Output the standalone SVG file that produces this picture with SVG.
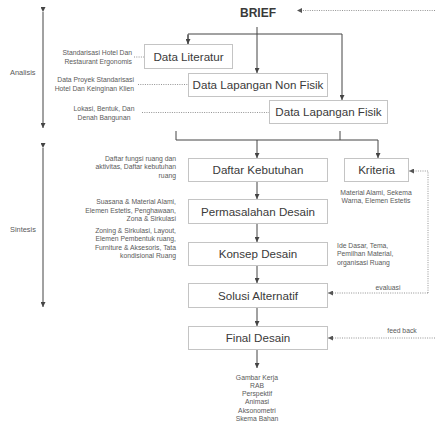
<svg xmlns="http://www.w3.org/2000/svg" width="435" height="429" viewBox="0 0 435 429">
<style>
.box{fill:#fff;stroke:#c4c4c4;stroke-width:1}
.bt{font-family:"Liberation Sans",Arial,sans-serif;font-size:11.6px;fill:#3a3a3a;text-anchor:middle}
.st{font-family:"Liberation Sans",Arial,sans-serif;font-size:6.8px;fill:#5a5a5a}
.ph{font-family:"Liberation Sans",Arial,sans-serif;font-size:7.4px;fill:#5a5a5a}
.r{text-anchor:end}.m{text-anchor:middle}
.ln{fill:none;stroke:#444;stroke-width:1}
.dt{fill:none;stroke:#777;stroke-width:0.8;stroke-dasharray:1 1.3}
</style>
<defs>
<marker id="ah" viewBox="0 0 6 6" refX="6" refY="3" markerWidth="5" markerHeight="5" orient="auto" markerUnits="userSpaceOnUse"><path d="M0,0 L6,3 L0,6 z" fill="#444"/></marker>
<marker id="ahd" viewBox="0 0 6 6" refX="6" refY="3" markerWidth="5" markerHeight="5" orient="auto" markerUnits="userSpaceOnUse"><path d="M0,0 L6,3 L0,6 z" fill="#555"/></marker>
</defs>
<rect width="435" height="429" fill="#fff"/>

<g id="phases">
<line class="ln" x1="43" y1="12" x2="43" y2="128" marker-start="url(#ah)" marker-end="url(#ah)"/>
<text class="ph" x="10" y="74.5">Analisis</text>
<line class="ln" x1="43" y1="148" x2="43" y2="307" marker-start="url(#ah)" marker-end="url(#ah)"/>
<text class="ph" x="10" y="231.5">Sintesis</text>
</g>

<g id="connectors">
<line class="dt" x1="435" y1="10.5" x2="297" y2="10.5" marker-end="url(#ahd)"/>
<line class="ln" x1="257" y1="27" x2="257" y2="73" marker-end="url(#ah)"/>
<path class="ln" d="M188,44 V34 H342 V100" marker-end="url(#ah)"/>
<path class="ln" d="M188,35 V44" marker-end="url(#ah)"/>
<line class="dt" x1="134" y1="57" x2="144" y2="57"/>
<line class="dt" x1="138" y1="84.5" x2="188" y2="84.5"/>
<line class="dt" x1="142" y1="112.5" x2="269" y2="112.5"/>
<path class="ln" d="M176,131 V140 H378"/>
<line class="ln" x1="340" y1="131" x2="340" y2="140"/>
<line class="ln" x1="257" y1="140" x2="257" y2="158" marker-end="url(#ah)"/>
<line class="ln" x1="378" y1="140" x2="378" y2="158" marker-end="url(#ah)"/>
<line class="ln" x1="257" y1="182" x2="257" y2="199" marker-end="url(#ah)"/>
<line class="ln" x1="257" y1="223" x2="257" y2="242" marker-end="url(#ah)"/>
<line class="ln" x1="257" y1="266" x2="257" y2="283" marker-end="url(#ah)"/>
<line class="ln" x1="257" y1="308" x2="257" y2="326" marker-end="url(#ah)"/>
<line class="ln" x1="257" y1="350" x2="257" y2="368" marker-end="url(#ah)"/>
<path class="dt" d="M428,293 V171 H409" marker-end="url(#ahd)"/>
<path class="dt" d="M428,293 H328" marker-end="url(#ahd)"/>
<line class="dt" x1="435" y1="338" x2="328" y2="338" marker-end="url(#ahd)"/>
<text class="st m" x="388" y="289.5">evaluasi</text>
<text class="st m" x="402" y="332.5">feed back</text>
</g>

<g id="brief"><text x="258" y="17" font-family="'Liberation Sans',Arial,sans-serif" font-size="12" font-weight="bold" fill="#3a3a3a" text-anchor="middle">BRIEF</text></g>

<g id="data-literatur">
<rect class="box" x="144.5" y="44.5" width="88" height="24"/>
<text class="bt" x="188.5" y="60.5">Data Literatur</text>
<text class="st r" x="132" y="54.5">Standarisasi Hotel Dan</text>
<text class="st r" x="132" y="63.5">Restaurant Ergonomis</text>
</g>

<g id="data-lapangan-non-fisik">
<rect class="box" x="188.5" y="73.5" width="139" height="23"/>
<text class="bt" x="258" y="89">Data Lapangan Non Fisik</text>
<text class="st r" x="134" y="81.5">Data Proyek Standarisasi</text>
<text class="st r" x="134" y="91">Hotel Dan Keinginan Klien</text>
</g>

<g id="data-lapangan-fisik">
<rect class="box" x="269.5" y="100.5" width="118" height="23"/>
<text class="bt" x="328.5" y="116">Data Lapangan Fisik</text>
<text class="st m" x="104" y="110.5">Lokasi, Bentuk, Dan</text>
<text class="st m" x="104" y="119.5">Denah Bangunan</text>
</g>

<g id="daftar-kebutuhan">
<rect class="box" x="188.5" y="158.5" width="139" height="23"/>
<text class="bt" x="258" y="174">Daftar Kebutuhan</text>
<text class="st r" x="176" y="160.5">Daftar fungsi ruang dan</text>
<text class="st r" x="176" y="169">aktivitas, Daftar kebutuhan</text>
<text class="st r" x="176" y="177.5">ruang</text>
</g>

<g id="kriteria">
<rect class="box" x="344.5" y="158.5" width="64" height="23"/>
<text class="bt" x="376.5" y="174">Kriteria</text>
<text class="st m" x="376" y="194.5">Material Alami, Sekema</text>
<text class="st m" x="376" y="203">Warna, Elemen Estetis</text>
</g>

<g id="permasalahan-desain">
<rect class="box" x="188.5" y="199.5" width="139" height="24"/>
<text class="bt" x="258" y="215.5">Permasalahan Desain</text>
<text class="st r" x="176" y="204">Suasana &amp; Material Alami,</text>
<text class="st r" x="176" y="212.5">Elemen Estetis, Penghawaan,</text>
<text class="st r" x="176" y="221">Zona &amp; Sirkulasi</text>
</g>

<g id="konsep-desain">
<rect class="box" x="188.5" y="242.5" width="139" height="23"/>
<text class="bt" x="258" y="258">Konsep Desain</text>
<text class="st r" x="176" y="232.5">Zoning &amp; Sirkulasi, Layout,</text>
<text class="st r" x="176" y="241">Elemen Pembentuk ruang,</text>
<text class="st r" x="176" y="249.5">Furniture &amp; Aksesoris, Tata</text>
<text class="st r" x="176" y="258">kondisional Ruang</text>
<text class="st" x="337" y="247.5">Ide Dasar, Tema,</text>
<text class="st" x="337" y="256">Pemilhan Material,</text>
<text class="st" x="337" y="264.5">organisasi Ruang</text>
</g>

<g id="solusi-alternatif">
<rect class="box" x="188.5" y="283.5" width="139" height="24"/>
<text class="bt" x="258" y="299.5">Solusi Alternatif</text>
</g>

<g id="final-desain">
<rect class="box" x="188.5" y="326.5" width="139" height="23"/>
<text class="bt" x="258" y="342">Final Desain</text>
</g>

<g id="outputs">
<text class="st m" x="257" y="379.5">Gambar Kerja</text>
<text class="st m" x="257" y="387.8">RAB</text>
<text class="st m" x="257" y="396.1">Perspektif</text>
<text class="st m" x="257" y="404.4">Animasi</text>
<text class="st m" x="257" y="412.7">Aksonometri</text>
<text class="st m" x="257" y="421">Skema Bahan</text>
</g>
</svg>
